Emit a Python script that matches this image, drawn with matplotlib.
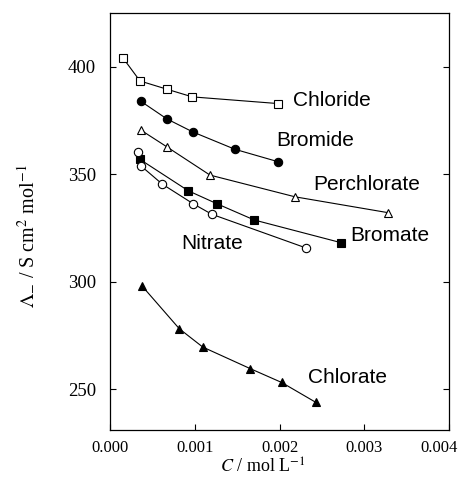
import matplotlib.pyplot as plt
from matplotlib.ticker import FormatStrFormatter
from matplotlib.transforms import ScaledTranslation

plt.rcParams['font.family'] = ['Liberation Serif', 'DejaVu Serif']
plt.rcParams['mathtext.fontset'] = 'stix'

# C / mol L-1 and molar conductivity for each anion
chloride_c = [0.000157, 0.000354, 0.000669, 0.000971, 0.001979]
chloride_y = [403.9, 393.4, 389.6, 386.0, 382.9]

bromide_c = [0.000362, 0.000669, 0.000976, 0.001475, 0.001986]
bromide_y = [384.0, 375.8, 369.7, 361.6, 355.8]

perchlorate_c = [0.000366, 0.000669, 0.00118, 0.002183, 0.003284]
perchlorate_y = [370.5, 362.8, 349.6, 339.5, 332.1]

bromate_c = [0.000354, 0.000924, 0.001266, 0.001703, 0.002722]
bromate_y = [356.9, 342.3, 336.2, 328.7, 318.2]

nitrate_c = [0.000334, 0.000362, 0.000617, 0.000980, 0.001200, 0.002313]
nitrate_y = [360.2, 354.0, 345.4, 336.3, 331.4, 315.7]

chlorate_c = [0.000374, 0.000818, 0.001094, 0.001652, 0.002026, 0.002431]
chlorate_y = [298.2, 278.1, 269.6, 259.6, 253.1, 243.8]

labels = ['Chloride', 'Bromide', 'Perchlorate', 'Bromate', 'Nitrate', 'Chlorate']
label_x = [0.00216, 0.00196, 0.0024, 0.00283, 0.000846, 0.00234]
label_y = [384.5, 365.9, 345.0, 321.7, 317.9, 255.2]

fig = plt.figure(figsize=(4.61, 4.82), dpi=100)
ax = fig.add_axes([0.2386, 0.1079, 0.7354, 0.865])

series = [
    (chloride_c, chloride_y, 's', 'white'),
    (bromide_c, bromide_y, 'o', 'black'),
    (perchlorate_c, perchlorate_y, '^', 'white'),
    (bromate_c, bromate_y, 's', 'black'),
    (nitrate_c, nitrate_y, 'o', 'white'),
    (chlorate_c, chlorate_y, '^', 'black'),
]
for c, y, m, fc in series:
    ax.plot(c, y, color='black', lw=0.8, marker=m, ms=6,
            mfc=fc, mec='black', mew=0.8)

for t, x, y in zip(labels, label_x, label_y):
    ax.text(x, y, t, fontsize=15, family=['Liberation Sans', 'DejaVu Sans'],
            va='center', ha='left')

ax.set_xlim(0, 0.004)
ax.set_ylim(231, 425)
ax.set_xticks([0.000, 0.001, 0.002, 0.003, 0.004])
ax.set_yticks([250, 300, 350, 400])
ax.xaxis.set_major_formatter(FormatStrFormatter('%.3f'))
ax.tick_params(direction='in', length=4, width=0.8, right=True, top=False)
ax.tick_params(axis='x', labelsize=12, pad=7)
ax.tick_params(axis='y', labelsize=13.5, pad=10)
for s in ax.spines.values():
    s.set_linewidth(0.9)

# last x tick label sits against the figure edge, nudge it left
fig.canvas.draw()
last = ax.get_xticklabels()[-1]
last.set_transform(last.get_transform() + ScaledTranslation(-7 / 72, 0, fig.dpi_scale_trans))

ax.set_xlabel(r'$C$ / mol L$^{\mathrm{-1}}$', fontsize=13)
ax.set_ylabel(r'$\Lambda_{-}$ / S cm$^{\mathrm{2}}$ mol$^{\mathrm{-1}}$', fontsize=14.5)
ax.xaxis.set_label_coords(0.451, -0.067)
ax.yaxis.set_label_coords(-0.215, 0.465)

fig.savefig('out.png', dpi=100)
